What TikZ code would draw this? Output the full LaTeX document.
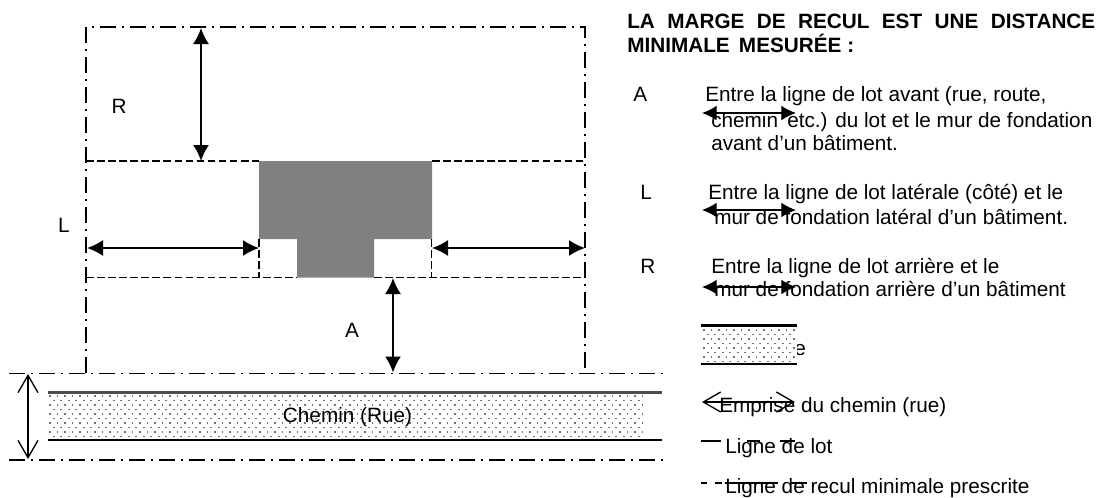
\documentclass[tikz,border=0pt]{standalone}
\usepackage{fontspec}
\setmainfont{Liberation Sans}
\usetikzlibrary{arrows.meta}
\tikzset{
  x=0.75pt,y=-0.75pt,
  lotline/.style={line width=1.15pt,dash pattern=on 12pt off 4.6pt on 1.6pt off 4.3pt},
  reculline/.style={line width=1.15pt,dash pattern=on 5.7pt off 2.6pt},
  dimarrow/.style={line width=1.3pt,{Latex[length=12pt,width=12pt]}-{Latex[length=12pt,width=12pt]}},
  keyarrow/.style={line width=0.9pt,{Latex[length=11pt,width=11pt]}-{Latex[length=11pt,width=11pt]}},
  openarrow/.style={line width=1pt,{Straight Barb[length=13pt,width=15pt]}-{Straight Barb[length=13pt,width=15pt]}},
  roadline/.style={line width=1.8pt},
  txt/.style={anchor=base west,inner sep=0pt,font=\fontsize{15.55pt}{18pt}\selectfont},
  btxt/.style={txt,font=\fontsize{15.55pt}{18pt}\selectfont\bfseries},
  lab/.style={inner sep=0pt,font=\fontsize{15.55pt}{18pt}\selectfont}
}
\newcommand{\dotband}[4]{% x0,x1,y0,y1
  \pgfmathtruncatemacro{\rowcount}{int((#4-#3)/4.5)}
  \foreach \r in {0,...,\rowcount}{
    \pgfmathsetmacro{\yy}{#3+4.5*\r}
    \pgfmathsetmacro{\xs}{#1+mod(\r,2)*3.75}
    \pgfmathsetmacro{\xn}{\xs+7.5}
    \foreach \xx in {\xs,\xn,...,#2}{
      \fill[black!55] (\xx,\yy) rectangle +(1.9,1.9);
    }
  }
}
\begin{document}
\begin{tikzpicture}
\useasboundingbox (0,0) rectangle (1098,497);
% coordinates
\coordinate (tl) at (86,27); \coordinate (tr) at (585,27);
\coordinate (bl) at (86,373); \coordinate (br) at (585,373);
\coordinate (rTop) at (201,28); \coordinate (rBot) at (201,161);
\coordinate (lL) at (87,248); \coordinate (lR) at (259,248);
\coordinate (rL) at (432,248); \coordinate (rR) at (585,248);
\coordinate (aTop) at (393,278); \coordinate (aBot) at (393,372.5);
\coordinate (eTop) at (28,374); \coordinate (eBot) at (28,459);
% building
\fill[black!50] (259,161) -- (432,161) -- (432,239) -- (374,239) -- (374,277.5) -- (297,277.5) -- (297,239) -- (259,239) -- cycle;
% recul lines
\draw[reculline] (86,161) -- (259,161);
\draw[reculline] (432,161) -- (585,161);
\draw[reculline] (86,277.5) -- (297,277.5);
\draw[reculline] (374,277.5) -- (585,277.5);
\draw[reculline] (259,239) -- (259,277.5);
\draw[reculline] (431.5,239) -- (431.5,277.5);
% lot lines
\draw[lotline] (bl) -- (tl) -- (tr) -- (br);
\draw[lotline] (9,373.5) -- (665,373.5);
\draw[lotline] (9,460) -- (665,460);
% road
\dotband{49}{642}{395}{437}
\draw[roadline,black!70] (48,392.5) -- (662,392.5);
\draw[roadline] (48,440) -- (662,440);
\node[lab] (road) at (347.5,417) {Chemin (Rue)};
% dimension arrows
\draw[dimarrow] (rTop) -- (rBot);
\draw[dimarrow] (lL) -- (lR);
\draw[dimarrow] (rL) -- (rR);
\draw[dimarrow] (aTop) -- (aBot);
\draw[openarrow] (eTop) -- (eBot);
% labels
\node[lab] (labR) at (119,106) {R};
\node[lab] (labL) at (64,225) {L};
\node[lab] (labA) at (352,330) {A};
% right column
\node[btxt] (t1) at (627,28) {\makebox[351pt][s]{LA MARGE DE RECUL EST UNE DISTANCE}};
\node[btxt] (t2) at (627,52) {MINIMALE\, MESURÉE :};
\node[txt] (kA) at (633,101) {A};
\node[txt] (a1) at (705,101) {Entre la ligne de lot avant (rue, route,};
\node[txt] (a2) at (711,127) {chemin\, etc.) du lot et le mur de fondation};
\node[txt] (a3) at (711,150) {avant d’un bâtiment.};
\node[txt] (kL) at (640,199) {L};
\node[txt] (l1) at (708,199) {Entre la ligne de lot latérale (côté) et le};
\node[txt] (l2) at (714,224) {mur de fondation latéral d’un bâtiment.};
\node[txt] (kR) at (640,273) {R};
\node[txt] (r1) at (711,273) {Entre la ligne de lot arrière et le};
\node[txt] (r2) at (714,296) {mur de fondation arrière d’un bâtiment};
\coordinate (ka1) at (702,113); \coordinate (ka2) at (796,113);
\coordinate (kl1) at (702,210); \coordinate (kl2) at (796,210);
\coordinate (kr1) at (702,287); \coordinate (kr2) at (796,287);
\draw[keyarrow] (ka1) -- (ka2);
\draw[keyarrow] (kl1) -- (kl2);
\draw[keyarrow] (kr1) -- (kr2);
% legend
\node[txt] (ke) at (794,355) {e};
\fill[white] (701,327) rectangle (796.5,363);
\dotband{703}{795}{329}{361}
\draw[roadline] (700.5,325.5) -- (796.5,325.5);
\draw[roadline] (700.5,364) -- (796.5,364);
\coordinate (em1) at (702,402); \coordinate (em2) at (795,402);
\node[txt] (em) at (719,412) {Emprise du chemin (rue)};
\draw[openarrow] (em1) -- (em2);
\node[txt] (ll) at (725,453) {Ligne de lot};
\draw[roadline] (701,441) -- (721,441);
\draw[line width=1.2pt] (747,441) -- (760,441) (780,441) -- (795,441);
\node[txt] (lr) at (725,493) {Ligne de recul minimale prescrite};
\draw[line width=1.1pt] (701,483) -- (707,483) (715,483) -- (722,483) (725,483) -- (778,483) (790,483) -- (807,483);
\end{tikzpicture}
\end{document}
